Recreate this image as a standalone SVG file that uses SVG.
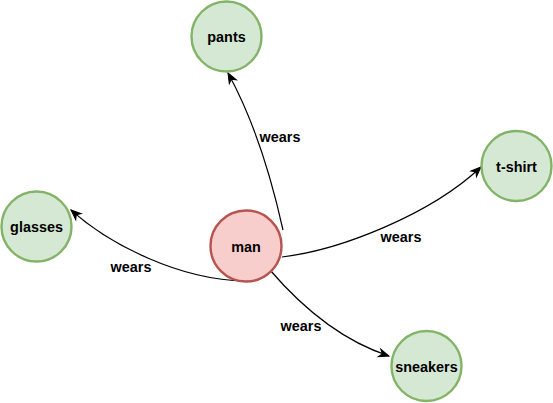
<svg xmlns="http://www.w3.org/2000/svg" width="553" height="403" viewBox="0 0 553 403">
<style>
.node-g{fill:#d5e8d4;stroke:#82b366;stroke-width:2.4}
.node-r{fill:#f8cecc;stroke:#b85450;stroke-width:2.4}
.lbl{font-family:"Liberation Sans",Arial,sans-serif;font-size:14.4px;font-weight:bold;fill:#000;text-anchor:middle}
.edge{fill:none;stroke:#000;stroke-width:1.2;marker-end:url(#arr)}
</style>
<defs>
<marker id="arr" markerUnits="userSpaceOnUse" markerWidth="12" markerHeight="10" refX="10" refY="4" orient="auto" overflow="visible">
<path d="M0,0 L10,4 L0,8 L3,4 Z" fill="#000" stroke="#000" stroke-width="1"/>
</marker>
</defs>
<rect width="553" height="403" fill="#fff"/>
<g id="connectors">
<path class="edge" d="M283,230 Q262,135 228,73"/>
<path class="edge" d="M282,257 C340,250 430,215 481,167"/>
<path class="edge" d="M245,281 C180,280 110,245 71,210"/>
<path class="edge" d="M270,270 C300,305 340,340 389,356"/>
<text class="lbl" x="280" y="142">wears</text>
<text class="lbl" x="401" y="242">wears</text>
<text class="lbl" x="131" y="272">wears</text>
<text class="lbl" x="301" y="331">wears</text>
</g>
<g id="node-pants">
<circle class="node-g" cx="226.5" cy="36.5" r="35"/>
<text class="lbl" x="226.5" y="42">pants</text>
</g>
<g id="node-tshirt">
<circle class="node-g" cx="516.5" cy="166" r="35"/>
<text class="lbl" x="516.5" y="171.5">t-shirt</text>
</g>
<g id="node-glasses">
<circle class="node-g" cx="36.5" cy="226.5" r="35"/>
<text class="lbl" x="36.5" y="232">glasses</text>
</g>
<g id="node-man">
<circle class="node-r" cx="246" cy="246" r="35.5"/>
<text class="lbl" x="246" y="252">man</text>
</g>
<g id="node-sneakers">
<circle class="node-g" cx="426.5" cy="366" r="35"/>
<text class="lbl" x="426.5" y="371.5">sneakers</text>
</g>
</svg>
